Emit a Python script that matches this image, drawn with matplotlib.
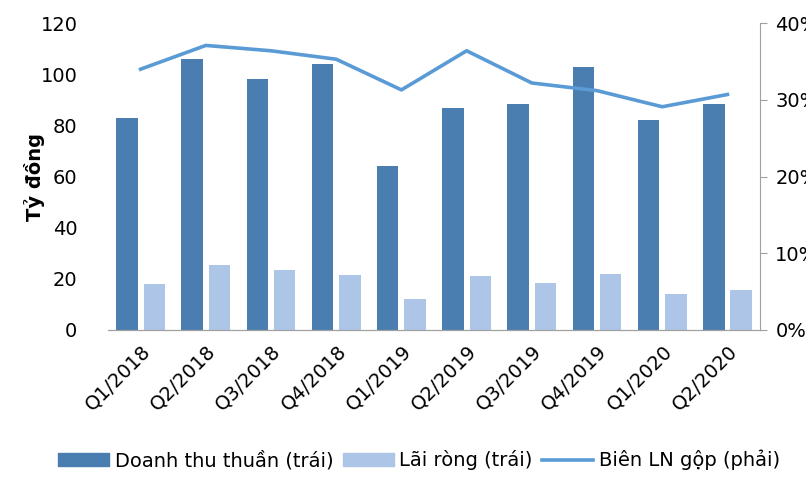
import numpy as np
import matplotlib
matplotlib.use('Agg')
import matplotlib.pyplot as plt
from matplotlib.ticker import PercentFormatter
from matplotlib.lines import Line2D
from matplotlib.patches import Patch

quarters = ['Q1/2018', 'Q2/2018', 'Q3/2018', 'Q4/2018', 'Q1/2019',
            'Q2/2019', 'Q3/2019', 'Q4/2019', 'Q1/2020', 'Q2/2020']
doanh_thu = [83, 106, 98, 104, 64, 87, 88.5, 103, 82, 88.5]
lai_rong = [18, 25.5, 23.5, 21.5, 12, 21, 18.5, 22, 14, 15.5]
bien_ln = [34.0, 37.1, 36.4, 35.3, 31.3, 36.4, 32.2, 31.2, 29.1, 30.7]

DARK = '#4a7eb1'
LIGHT = '#adc6e7'
LINE = '#5b9bd5'

plt.rcParams['font.family'] = ['DejaVu Sans']

fig = plt.figure(figsize=(8.06, 4.83), dpi=100)
ax = fig.add_axes([0.134, 0.317, 0.809, 0.635])
ax2 = ax.twinx()

x = np.arange(len(quarters))
w = 0.33
ax.bar(x - 0.21, doanh_thu, w, color=DARK)
ax.bar(x + 0.21, lai_rong, w, color=LIGHT)
ax2.plot(x, bien_ln, color=LINE, lw=2.6)

ax.set_xlim(-0.5, len(quarters) - 0.5)
ax.set_ylim(0, 120)
ax.set_yticks(range(0, 121, 20))
ax2.set_ylim(0, 40)
ax2.set_yticks(range(0, 41, 10))
ax2.yaxis.set_major_formatter(PercentFormatter(decimals=0))

for a in (ax, ax2):
    for s in ('top', 'left', 'right'):
        a.spines[s].set_visible(False)
    a.spines['bottom'].set_color('#a0a0a0')
ax2.spines['right'].set_visible(True)
ax2.spines['right'].set_color('#a0a0a0')

ax.set_xticks(x)
ax.set_xticklabels(quarters, rotation=45, ha='right', rotation_mode='anchor')
ax.tick_params(axis='x', length=0, labelsize=14, pad=8)
ax.tick_params(axis='y', length=0, labelsize=14, pad=22)
ax2.tick_params(axis='y', length=5, color='#a0a0a0', labelsize=14, pad=6)

ax.set_ylabel('Tỷ đồng', fontsize=14, fontweight='bold')
ax.yaxis.set_label_coords(-0.097, 0.5)

handles = [Patch(color=DARK), Patch(color=LIGHT), Line2D([], [], color=LINE, lw=2.6)]
labels = ['Doanh thu thuần (trái)', 'Lãi ròng (trái)', 'Biên LN gộp (phải)']
fig.legend(handles, labels, loc='lower center', bbox_to_anchor=(0.52, -0.01), ncol=3,
           frameon=False, fontsize=14, handlelength=2.6, handletextpad=0.3,
           columnspacing=0.5)

fig.savefig('out.png', dpi=100)
